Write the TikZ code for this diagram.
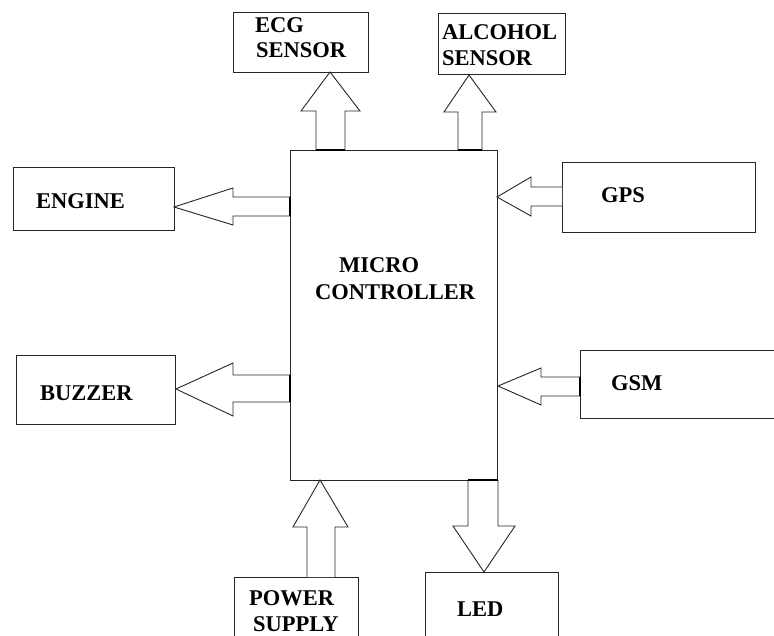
\documentclass[tikz,border=0pt]{standalone}
\usepackage{fontspec}
\setmainfont{Liberation Serif}
\begin{document}
\begin{tikzpicture}[x=1pt,y=-1pt,
  box/.style={draw=black!85, line width=1pt, inner sep=0pt, anchor=north west},
  lbl/.style={font=\fontsize{22.5}{27}\selectfont\bfseries, anchor=west, inner sep=0pt, text=black},
  blk/.style={draw=black!85, line width=0.9pt, fill=white, line join=miter},
  thick edge/.style={line width=2.2pt, black}]
\useasboundingbox (0,0) rectangle (774,636);
\clip (0,0) rectangle (774,636);

% boxes
\node[box, minimum width=135pt, minimum height=60pt] (ecg) at (233,12) {};
\node[box, minimum width=127pt, minimum height=61pt] (alc) at (438,13) {};
\node[box, minimum width=207pt, minimum height=330pt] (mcu) at (290,150) {};
\node[box, minimum width=161pt, minimum height=63pt] (eng) at (13,167) {};
\node[box, minimum width=159pt, minimum height=69pt] (buz) at (16,355) {};
\node[box, minimum width=193pt, minimum height=70pt] (gps) at (562,162) {};
\node[box, minimum width=230pt, minimum height=68pt] (gsm) at (580,350) {};
\node[box, minimum width=124pt, minimum height=83pt] (pwr) at (234,577) {};
\node[box, minimum width=133pt, minimum height=88pt] (led) at (425,572) {};

% labels
\node[lbl] (ecgA) at (255,25) {ECG};
\node[lbl] (ecgB) at (256,50) {SENSOR};
\node[lbl] (alcA) at (442,32) {ALCOHOL};
\node[lbl] (alcB) at (442,58) {SENSOR};
\node[lbl] (mcuA) at (339,265) {MICRO};
\node[lbl] (mcuB) at (315,292) {CONTROLLER};
\node[lbl] (engT) at (36,201) {ENGINE};
\node[lbl] (buzT) at (40,393) {BUZZER};
\node[lbl] (gpsT) at (601,195) {GPS};
\node[lbl] (gsmT) at (611,383) {GSM};
\node[lbl] (pwrA) at (249,598) {POWER};
\node[lbl] (pwrB) at (253,624) {SUPPLY};
\node[lbl] (ledT) at (457,609) {LED};

% block arrows
% MCU -> ECG
\draw[blk] (316,150) -- (316,111) -- (301,111) -- (330,72) -- (360,111) -- (345,111) -- (345,150);
\draw[thick edge] (316,150) -- (345,150);
% MCU -> ALCOHOL
\draw[blk] (458,150) -- (458,112) -- (444,112) -- (469,75) -- (496,112) -- (482,112) -- (482,150);
\draw[thick edge] (458,150) -- (482,150);
% MCU -> ENGINE
\draw[blk] (290,197) -- (233,197) -- (233,188) -- (174,207) -- (233,225) -- (233,216) -- (290,216);
\draw[thick edge] (290,197) -- (290,216);
% MCU -> BUZZER
\draw[blk] (290,375) -- (233,375) -- (233,363) -- (176,389) -- (233,416) -- (233,402) -- (290,402);
\draw[thick edge] (290,375) -- (290,402);
% GPS -> MCU
\draw[blk] (562,187) -- (531,187) -- (531,177) -- (497,197) -- (531,216) -- (531,206) -- (562,206);
% GSM -> MCU
\draw[blk] (580,377) -- (541,377) -- (541,368) -- (498,386) -- (541,405) -- (541,396) -- (580,396);
\draw[thick edge] (580,377) -- (580,396);
% POWER -> MCU
\draw[blk] (307,577) -- (307,527) -- (293,527) -- (320,480) -- (348,527) -- (335,527) -- (335,577);
% MCU -> LED
\draw[blk] (468,480) -- (468,526) -- (453,526) -- (484,572) -- (515,526) -- (498,526) -- (498,480);
\draw[thick edge] (468,480) -- (498,480);
\end{tikzpicture}
\end{document}
